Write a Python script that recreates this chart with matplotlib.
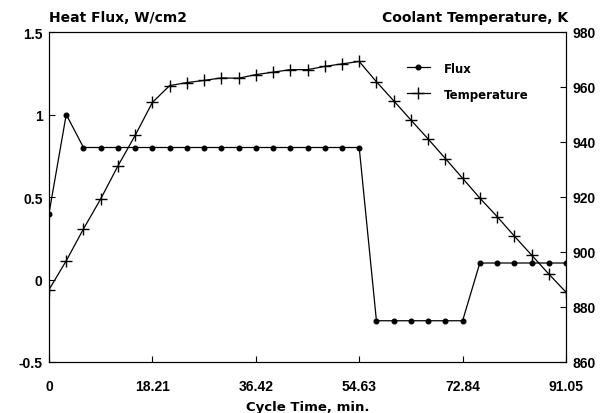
import matplotlib
matplotlib.use("Agg")
import matplotlib.pyplot as plt

time_min = [0, 3.035, 6.07, 9.105, 12.14, 15.175, 18.21, 21.245, 24.28, 27.315,
            30.35, 33.385, 36.42, 39.455, 42.49, 45.525, 48.56, 51.595, 54.63,
            57.665, 60.7, 63.735, 66.77, 69.805, 72.84, 75.875, 78.91, 81.945,
            84.98, 88.015, 91.05]
flux = [0.4, 1.0, 0.8, 0.8, 0.8, 0.8, 0.8, 0.8, 0.8, 0.8, 0.8, 0.8, 0.8, 0.8,
        0.8, 0.8, 0.8, 0.8, 0.8, -0.25, -0.25, -0.25, -0.25, -0.25, -0.25,
        0.1, 0.1, 0.1, 0.1, 0.1, 0.1]
temperature = [886.3, 896.8, 908.4, 919.3, 931.3, 942.4, 954.4, 960.5, 961.6,
               962.4, 963.3, 963.2, 964.5, 965.4, 966.3, 966.3, 967.5, 968.4,
               969.3, 961.9, 955.0, 948.0, 941.1, 934.0, 926.8, 919.6, 912.9,
               905.8, 898.9, 892.0, 885.4]
x_ticks = [0, 18.21, 36.42, 54.63, 72.84, 91.05]
x_ticklabels = ["0", "18.21", "36.42", "54.63", "72.84", "91.05"]
flux_ticks = [-0.5, 0, 0.5, 1, 1.5]
flux_ticklabels = ["-0.5", "0", "0.5", "1", "1.5"]
temp_ticks = [860, 880, 900, 920, 940, 960, 980]

plt.rcParams['font.family'] = ['Liberation Sans', 'DejaVu Sans']
plt.rcParams['font.weight'] = 'bold'
wide = ['DejaVu Sans']

fig = plt.figure(figsize=(6.06, 4.14), dpi=100)
ax = fig.add_axes([49/606, 1-363/414, (566-49)/606, (363-33)/414])
ax2 = ax.twinx()

l1, = ax.plot(time_min, flux, color='black', lw=0.9, marker='o', ms=3.3,
              label='Flux')
l2, = ax2.plot(time_min, temperature, color='black', lw=0.9, marker='+',
               ms=8, mew=1.0, label='Temperature')

ax.set_xlim(0, 91.05)
ax.set_ylim(-0.5, 1.5)
ax2.set_ylim(860, 980)
ax.set_xticks(x_ticks)
ax.set_xticklabels(x_ticklabels)
ax.set_yticks(flux_ticks)
ax.set_yticklabels(flux_ticklabels)
ax2.set_yticks(temp_ticks)

for a in (ax, ax2):
    a.tick_params(direction='in', length=4, width=0.8, labelsize=10)
    for s in a.spines.values():
        s.set_linewidth(0.8)
ax.tick_params(axis='x', pad=12)
ax.tick_params(axis='y', pad=4.5)
ax2.tick_params(axis='y', pad=5)

fig.text(49/606, 1-17.5/414, "Heat Flux, W/cm2", ha='left', va='center',
         fontsize=10, fontweight='bold', family=wide)
fig.text(568/606, 1-18/414, "Coolant Temperature, K", ha='right', va='center',
         fontsize=10, fontweight='bold', family=wide)
ax.set_xlabel("Cycle Time, min.", fontsize=9.5, fontweight='bold',
              family=wide, va='center')
ax.xaxis.set_label_coords(0.5, -(408-363)/330)

leg = ax2.legend(handles=[l1, l2], loc='upper left',
                 bbox_to_anchor=(396/606, 1-52/414), bbox_transform=fig.transFigure,
                 frameon=False, prop={'family': wide, 'weight': 'bold', 'size': 8.5},
                 handlelength=1.95, labelspacing=1.1, handletextpad=1.2)

fig.savefig("out.png", dpi=100)
